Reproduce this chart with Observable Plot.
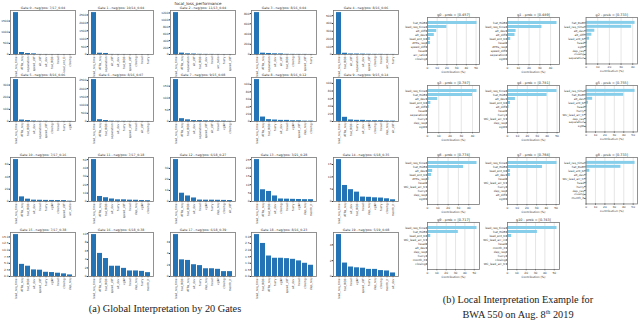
<!DOCTYPE html>
<html><head><meta charset="utf-8">
<script src="https://cdn.jsdelivr.net/npm/d3@7"></script>
<script src="https://cdn.jsdelivr.net/npm/@observablehq/plot@0.6"></script>
<style>
body{margin:0;background:#fff;}
#fig{position:relative;width:640px;height:326px;overflow:hidden;background:#fff;font-family:"DejaVu Sans",sans-serif;}
.panel{position:absolute;}
.cap{position:absolute;font-family:"Liberation Serif",serif;font-size:10.3px;line-height:13px;color:#222;text-align:center;white-space:nowrap;transform:translateX(-50%);}
.sup{position:absolute;font-family:"DejaVu Sans",sans-serif;font-size:4px;color:#222;white-space:nowrap;transform:translateX(-50%);}
</style></head>
<body><div id="fig"></div>
<script>
// ---------- (a) global interpretation: 20 gates ----------
const suptitle = "focal_loss_performance";
const gateTitles = [
  "Gate 0 - neg/pos: 7/17_0.04","Gate 1 - neg/pos: 10/14_0.04","Gate 2 - neg/pos: 11/13_0.04","Gate 3 - neg/pos: 8/16_0.04","Gate 4 - neg/pos: 8/16_0.06",
  "Gate 5 - neg/pos: 8/16_0.06","Gate 6 - neg/pos: 8/16_0.07","Gate 7 - neg/pos: 9/15_0.08","Gate 8 - neg/pos: 8/16_0.12","Gate 9 - neg/pos: 9/15_0.14",
  "Gate 10 - neg/pos: 7/17_0.16","Gate 11 - neg/pos: 7/17_0.18","Gate 12 - neg/pos: 6/18_0.27","Gate 13 - neg/pos: 3/21_0.28","Gate 14 - neg/pos: 6/18_0.35",
  "Gate 15 - neg/pos: 7/17_0.38","Gate 16 - neg/pos: 6/18_0.38","Gate 17 - neg/pos: 6/18_0.39","Gate 18 - neg/pos: 8/16_0.23","Gate 19 - neg/pos: 5/19_0.08"
];
const gateNames = [
  ["lead_req_time","ATRs_req","separation","speed_diff","alt_diff","alt_dev","hat_ROB","head","lead_ent_D","closing"],
  ["lead_req_time","ATRs_req","separation","alt_diff","alt_dev","hat_ROB","speed_diff","closing","head","hurry"],
  ["lead_req_time","ATRs_req","separation","alt_diff","hat_ROB","alt_dev","head","arr_ratio","hurry","speed_diff"],
  ["lead_req_time","ATRs_req","separation","alt_dev","alt_diff","hat_ROB","closing","head","speed_diff","hurry"],
  ["lead_req_time","hat_ROB","alt_diff","separation","alt_dev","speed_diff","closing","head","arr_ratio","hurry"],
  ["lead_req_time","ATRs_req","hat_ROB","alt_dev","separation","speed_diff","closing","head","hurry","xgW"],
  ["lead_req_time","ATRs_req","hat_ROB","separation","alt_dev","hurry","speed_diff","head","alt_diff","closing"],
  ["lead_req_time","ATRs_req","hat_ROB","alt_dev","separation","speed_diff","alt_diff","head","xgW","closing"],
  ["lead_req_time","ATRs_req","hat_ROB","hurry","alt_dev","head","xgW","speed_diff","dep_req","closing"],
  ["lead_req_time","ATRs_req","hat_ROB","hurry","alt_dev","xgW","closing","head","dep_req","alt_diff"],
  ["lead_req_time","ATRs_req","hat_ROB","alt_dev","head","hurry","xgW","closing","speed_diff","arr_ratio"],
  ["lead_req_time","ATRs_req","hat_ROB","alt_dev","hurry","speed_diff","head","dep_req","xgW","closing"],
  ["lead_req_time","ATRs_req","hat_ROB","alt_dev","head","xgW","hurry","dep_req","closing","alt_diff"],
  ["lead_req_time","ATRs_req","hat_ROB","alt_dev","closing","head","hurry","xgW","dep_req","month_it"],
  ["lead_req_time","ATRs_req","alt_dev","hat_ROB","head","dep_req","xgW","hurry","closing","month_it"],
  ["lead_req_time","ATRs_req","hat_ROB","alt_dev","speed_diff","hurry","xgW","head","closing","dep_req"],
  ["lead_req_time","ATRs_req","hat_ROB","speed_diff","alt_dev","xgW","head","dep_req","hurry","month_it"],
  ["lead_req_time","hat_ROB","ATRs_req","alt_dev","hurry","dep_req","head","xgW","closing","month_it"],
  ["lead_req_time","hat_ROB","ATRs_req","hurry","xgW","speed_diff","alt_dev","head","closing","dep_req"],
  ["lead_req_time","hat_ROB","head","xgW","speed_diff","hurry","dep_req","closing","month_it","alt_dev"]
];
const gateValues = [
  [1880, 90, 45, 30, 4, 3, 2, 2, 1, 1],
  [2650, 80, 65, 6, 4, 3, 2, 2, 1, 1],
  [1210, 40, 20, 14, 6, 4, 3, 2, 1, 1],
  [820, 26, 20, 14, 12, 4, 3, 2, 2, 1],
  [540, 16, 7, 6, 5, 3, 2, 2, 1, 1],
  [345, 12, 8, 4, 2, 2, 1, 1, 1, 1],
  [2550, 110, 60, 20, 15, 12, 10, 8, 6, 4],
  [178, 12, 7, 4, 4, 3, 3, 2, 2, 1],
  [113, 12, 5, 4, 3, 3, 2, 2, 1, 1],
  [110, 11, 4, 3, 3, 2, 2, 2, 1, 1],
  [68, 7.5, 3.8, 2.2, 2, 1.8, 1.7, 1.6, 1.5, 0.6],
  [50, 6, 4.5, 3, 2, 2, 1.6, 1.5, 1.2, 1],
  [38, 7.5, 5, 3.2, 1.3, 1.2, 1.2, 1.1, 1, 0.9],
  [25, 7, 6, 3.3, 1.5, 1.4, 1.3, 1.2, 1.1, 1.1],
  [17, 6.5, 4.8, 3.8, 1.8, 1.7, 1.5, 1.4, 1.1, 0.7],
  [15.9, 4.6, 3.9, 2.5, 2.4, 1.6, 1.5, 1.25, 1.0, 0.6],
  [9.8, 5.4, 4.2, 2.4, 2.4, 1.9, 1.3, 1.3, 1.2, 0.9],
  [7.3, 2.9, 2.8, 2.05, 1.9, 1.35, 1.35, 1.25, 0.85, 0.85],
  [3.17, 2.5, 1.55, 1.38, 1.38, 1.35, 1.3, 1.18, 1.0, 0.85],
  [5.3, 1.7, 1.2, 1.1, 1.05, 0.9, 0.9, 0.75, 0.7, 0.45]
];
const gateTicks = [
  [0,500,1000,1500],[0,500,1000,1500,2000,2500],[0,200,400,600,800,1000,1200],[0,200,400,600,800],[0,100,200,300,400,500],
  [0,100,200,300],[0,500,1000,1500,2000,2500],[0,50,100,150],[0,20,40,60,80,100],[0,20,40,60,80,100],
  [0,20,40,60],[0,10,20,30,40,50],[0,10,20,30],[0,5,10,15,20,25],[0,5,10,15],
  [0,2.5,5,7.5,10,12.5,15],[0,2,4,6,8,10],[0,2,4,6],[0,0.5,1,1.5,2,2.5,3],[0,2,4]
];

// ---------- (b) local interpretation: 11 experts ----------
const localTitles = [
  "g0 - prob = [0.457]","g1 - prob = [0.489]","g2 - prob = [0.733]",
  "g3 - prob = [0.787]","g4 - prob = [0.781]","g5 - prob = [0.755]",
  "g6 - prob = [0.774]","g7 - prob = [0.764]","g8 - prob = [0.733]",
  "g9 - prob = [0.717]","g10 - prob = [0.743]"
];
const localNames = [
  ["hat_ROB","lead_req_time","alt_diff","alt_dev","lead_ent_D","ATRs_req","speed_diff","head","arr_ratio","closing"],
  ["hat_ROB","lead_req_time","alt_dev","alt_diff","lead_ent_D","head","ATRs_req","speed_diff","separation","xgW"],
  ["hat_ROB","lead_req_time","alt_dev","alt_diff","lead_ent_D","head","xgW","dep_req","closing","separation"],
  ["lead_req_time","hat_ROB","alt_dev","lead_ent_D","alt_diff","head","separation","hurry","dep_req","xgW"],
  ["lead_req_time","hat_ROB","alt_dev","lead_ent_D","alt_diff","head","hurry","WC_lead_arr_tr","dep_req","xgW"],
  ["lead_req_time","hat_ROB","alt_dev","lead_ent_D","head","hurry","WC_lead_arr_tr","dep_req","separation","xgW"],
  ["lead_req_time","hat_ROB","alt_dev","lead_ent_D","ATRs_req","head","WC_lead_arr_tr","hurry","dep_req","xgW"],
  ["lead_req_time","hat_ROB","lead_ent_D","alt_dev","head","WC_lead_arr_tr","hurry","dep_req","alt_diff","xgW"],
  ["lead_req_time","hat_ROB","lead_ent_D","alt_dev","WC_lead_arr_tr","head","hurry","dep_req","closing","month_it"],
  ["lead_req_time","hat_ROB","lead_ent_D","WC_lead_arr_tr","head","alt_dev","dep_req","hurry","month_it","closing"],
  ["lead_req_time","hat_ROB","lead_ent_D","WC_lead_arr_in","head","month_it","dep_req","hurry","closing","WC_lead_arr_tr"]
];
const localValues = [
  [51, 20, 9.5, 7, 3, 3, 1, 0.8, 0.5, 0.5],
  [46, 32, 8, 7, 3, 1, 0.8, 0.8, 0.5, 0.5],
  [42, 39, 7.5, 5, 3, 1, 0.8, 0.5, 0.5, 0.5],
  [44, 40, 9, 3, 1.5, 1, 0.8, 0.6, 0.5, 0.4],
  [50, 40, 8, 3, 1.5, 1, 0.8, 0.6, 0.5, 0.4],
  [52, 40, 7, 2.5, 1, 0.8, 0.6, 0.5, 0.5, 0.4],
  [48, 35, 5, 4, 1.5, 1, 0.8, 0.6, 0.5, 0.4],
  [51, 36, 3, 3, 1, 0.8, 0.6, 0.5, 0.5, 0.4],
  [52, 37, 4, 1, 0.8, 0.8, 0.6, 0.5, 0.4, 0.4],
  [53, 33, 3.5, 1, 0.8, 0.8, 0.6, 0.5, 0.4, 0.4],
  [53, 32, 4.5, 1, 0.8, 0.8, 0.6, 0.5, 0.4, 0.4]
];
const localTicks = [
  [0,10,20,30,40,50],[0,10,20,30,40],[0,10,20,30,40],
  [0,10,20,30,40],[0,10,20,30,40,50],[0,10,20,30,40,50],
  [0,10,20,30,40],[0,10,20,30,40,50],[0,10,20,30,40,50],
  [0,10,20,30,40,50],[0,10,20,30,40,50]
];
const xLabel = "Contribution (%)";
const captionA = "(a) Global Interpretation by 20 Gates";
const captionB1 = "(b) Local Interpretation Example for";
const captionB2 = "BWA 550 on Aug. 8<sup style=\"font-size:6px\">th</sup> 2019";

// ---------- layout ----------
const fig = document.getElementById("fig");
const gateCols = [10, 88, 170, 251, 333], gateRows = [10, 77, 157, 232];
const GW = 65, GH = 44, GML = 13, GMR = 2, GMT = 6, GMB = 22;
const locCols = [427, 507, 586], locRows = [17, 85, 157, 222];
const LW = 52, LH = 47, LML = 45, LMR = 3, LMT = 6, LMB = 13;
const frameColor = "#777", ink = "#333";

function place(node, left, top) {
  const d = document.createElement("div");
  d.className = "panel"; d.style.left = left + "px"; d.style.top = top + "px";
  d.appendChild(node); fig.appendChild(d);
}

function gateChart(i) {
  const names = gateNames[i], vals = gateValues[i], ticks = gateTicks[i];
  const rows = names.map((n, k) => ({name: n, value: vals[k]}));
  const frac = ticks.some(t => !Number.isInteger(t));
  return Plot.plot({
    width: GML + GW + GMR, height: GMT + GH + GMB,
    marginLeft: GML, marginRight: GMR, marginTop: GMT, marginBottom: GMB,
    style: {background: "transparent", fontFamily: "DejaVu Sans", fontSize: "3px", color: ink, overflow: "visible"},
    x: {domain: names, paddingInner: 0.2, paddingOuter: 0.49},
    y: {domain: [0, Math.max(...vals) * 1.05]},
    marks: [
      Plot.barY(rows, {x: "name", y: "value", fill: "#2474b5"}),
      Plot.axisX({tickRotate: -90, tickSize: 1.2, tickPadding: 0.8, fontSize: 2.9, label: null, stroke: ink}),
      Plot.axisY({ticks, tickSize: 1.2, tickPadding: 0.8, fontSize: 2.9, label: null, stroke: ink,
                  tickFormat: frac ? d3.format(".1f") : d3.format("d")}),
      Plot.frame({stroke: frameColor, strokeWidth: 0.8}),
      Plot.text([gateTitles[i]], {text: d => d, frameAnchor: "top", dy: -1.5, lineAnchor: "bottom", fontSize: 3.2, fill: ink})
    ]
  });
}

function localChart(i) {
  const names = localNames[i], vals = localValues[i], ticks = localTicks[i];
  const rows = names.map((n, k) => ({name: n, value: vals[k]}));
  return Plot.plot({
    width: LML + LW + LMR, height: LMT + LH + LMB,
    marginLeft: LML, marginRight: LMR, marginTop: LMT, marginBottom: LMB,
    style: {background: "transparent", fontFamily: "DejaVu Sans", fontSize: "3px", color: ink, overflow: "visible"},
    x: {domain: [0, Math.max(...vals) * 1.05]},
    y: {domain: names, paddingInner: 0.2, paddingOuter: 0.49},
    marks: [
      Plot.gridX(ticks, {stroke: "#d4d4d4", strokeOpacity: 1, strokeWidth: 0.6}),
      Plot.barX(rows, {y: "name", x: "value", fill: "#87ceeb"}),
      Plot.axisX({ticks, tickSize: 1.2, tickPadding: 0.8, fontSize: 2.9, label: null, stroke: ink, tickFormat: d3.format("d")}),
      Plot.axisY({tickSize: 1.2, tickPadding: 0.8, fontSize: 2.9, label: null, stroke: ink}),
      Plot.frame({stroke: frameColor, strokeWidth: 0.8}),
      Plot.text([localTitles[i]], {text: d => d, frameAnchor: "top", dy: -1.5, lineAnchor: "bottom", fontSize: 3.4, fill: ink}),
      Plot.text([xLabel], {text: d => d, frameAnchor: "bottom", dy: 6.5, lineAnchor: "top", fontSize: 2.9, fill: ink})
    ]
  });
}

for (let i = 0; i < 20; i++) {
  const c = i % 5, r = Math.floor(i / 5);
  place(gateChart(i), gateCols[c] - GML, gateRows[r] - GMT);
}
for (let i = 0; i < 11; i++) {
  const c = i % 3, r = Math.floor(i / 3);
  place(localChart(i), locCols[c] - LML, locRows[r] - LMT);
}

function caption(html, cls, x, y) {
  const d = document.createElement("div");
  d.className = cls; d.style.left = x + "px"; d.style.top = y + "px";
  d.innerHTML = html; fig.appendChild(d);
}
caption(suptitle, "sup", 198, 0.5);
caption(captionA, "cap", 165, 302);
caption(captionB1, "cap", 518, 293);
caption(captionB2, "cap", 518, 306);
</script>
</body></html>
